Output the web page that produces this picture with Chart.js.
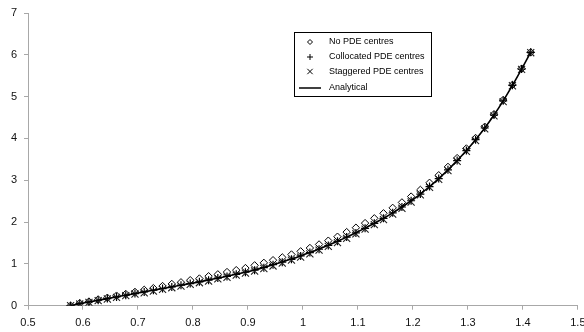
<!DOCTYPE html>
<html>
<head>
<meta charset="utf-8">
<script src="https://cdn.jsdelivr.net/npm/chart.js@4"></script>
<style>
  html, body { margin: 0; padding: 0; background: #fff; }
  #wrap { width: 584px; height: 332px; }
</style>
</head>
<body>
<div id="wrap"><canvas id="chart" width="584" height="332"></canvas></div>
<script>
// x positions of the nodes (1/sqrt(3) .. sqrt(2))
const xValues = [0.5774, 0.5941, 0.6108, 0.6276, 0.6443, 0.6610, 0.6778, 0.6945, 0.7113, 0.7280,
  0.7447, 0.7615, 0.7782, 0.7950, 0.8117, 0.8284, 0.8452, 0.8619, 0.8787, 0.8954,
  0.9121, 0.9289, 0.9456, 0.9624, 0.9791, 0.9958, 1.0126, 1.0293, 1.0461, 1.0628,
  1.0795, 1.0963, 1.1130, 1.1298, 1.1465, 1.1632, 1.1800, 1.1967, 1.2135, 1.2302,
  1.2469, 1.2637, 1.2804, 1.2972, 1.3139, 1.3306, 1.3474, 1.3641, 1.3809, 1.3976, 1.4142];

const noPdeValues = [0.00, 0.06, 0.10, 0.15, 0.19, 0.24, 0.28, 0.33, 0.38, 0.42,
  0.47, 0.52, 0.56, 0.61, 0.65, 0.705, 0.75, 0.805, 0.85, 0.90,
  0.965, 1.025, 1.088, 1.155, 1.225, 1.30, 1.38, 1.465, 1.555, 1.65,
  1.76, 1.865, 1.975, 2.09, 2.21, 2.34, 2.47, 2.61, 2.77, 2.94,
  3.12, 3.32, 3.53, 3.76, 4.01, 4.28, 4.58, 4.92, 5.28, 5.67, 6.06];

const collocatedValues = [0.00, 0.05, 0.09, 0.13, 0.17, 0.21, 0.25, 0.29, 0.33, 0.37,
  0.41, 0.45, 0.49, 0.53, 0.57, 0.61, 0.66, 0.70, 0.75, 0.80,
  0.85, 0.91, 0.98, 1.04, 1.11, 1.19, 1.27, 1.35, 1.44, 1.54,
  1.64, 1.74, 1.85, 1.97, 2.09, 2.22, 2.36, 2.51, 2.67, 2.85,
  3.04, 3.25, 3.47, 3.71, 3.97, 4.25, 4.56, 4.90, 5.27, 5.66, 6.06];

const staggeredValues = [0.00, 0.04, 0.08, 0.12, 0.16, 0.20, 0.24, 0.28, 0.31, 0.35,
  0.39, 0.43, 0.47, 0.51, 0.55, 0.59, 0.64, 0.68, 0.73, 0.78,
  0.83, 0.89, 0.95, 1.02, 1.09, 1.16, 1.24, 1.33, 1.42, 1.51,
  1.61, 1.72, 1.83, 1.94, 2.06, 2.19, 2.33, 2.48, 2.65, 2.83,
  3.02, 3.23, 3.45, 3.69, 3.95, 4.23, 4.54, 4.88, 5.26, 5.65, 6.05];

const analyticalValues = [0.00, 0.05, 0.09, 0.13, 0.17, 0.21, 0.25, 0.29, 0.33, 0.37,
  0.41, 0.45, 0.49, 0.53, 0.57, 0.615, 0.66, 0.705, 0.75, 0.80,
  0.855, 0.915, 0.978, 1.045, 1.115, 1.19, 1.27, 1.355, 1.445, 1.54,
  1.64, 1.745, 1.855, 1.97, 2.09, 2.22, 2.36, 2.51, 2.67, 2.85,
  3.04, 3.25, 3.47, 3.71, 3.97, 4.25, 4.56, 4.90, 5.27, 5.66, 6.06];

const seriesNames = ['No PDE centres', 'Collocated PDE centres', 'Staggered PDE centres', 'Analytical'];

const toPoints = ys => xValues.map((x, i) => ({ x: x, y: ys[i] }));

const FONT = "'Liberation Sans', Arial, sans-serif";
const axisGray = '#a8a8a8';

// legend box sits inside the plot area, like the original
const boxLegend = {
  id: 'boxLegend',
  afterDraw(chart) {
    const ctx = chart.ctx;
    const left = 294.5, top = 32.5, w = 137, h = 64;
    const rows = [42, 57, 71.5, 88];
    const keyX = 310, textX = 329;
    const keyRadius = [2.5, 3, 3.8];
    ctx.save();
    ctx.fillStyle = '#fff';
    ctx.fillRect(left, top, w, h);
    ctx.strokeStyle = '#000';
    ctx.lineWidth = 1;
    ctx.strokeRect(left, top, w, h);
    const ds = chart.data.datasets;
    for (let i = 0; i < 4; i++) {
      const y = rows[i];
      ctx.strokeStyle = '#000';
      if (i === 3) {
        ctx.beginPath();
        ctx.lineWidth = 1.5;
        ctx.moveTo(299, y);
        ctx.lineTo(321, y);
        ctx.stroke();
      } else {
        ctx.lineWidth = 1;
        ctx.fillStyle = '#fff';
        Chart.helpers.drawPoint(ctx, {
          pointStyle: ds[i].pointStyle,
          radius: keyRadius[i],
          rotation: 0,
          borderWidth: 1
        }, keyX, y);
      }
      ctx.font = '9px ' + FONT;
      ctx.fillStyle = '#000';
      ctx.textBaseline = 'middle';
      ctx.fillText(seriesNames[i], textX, y);
    }
    ctx.restore();
  }
};

new Chart(document.getElementById('chart').getContext('2d'), {
  type: 'scatter',
  data: {
    datasets: [{
      label: seriesNames[0],
      data: toPoints(noPdeValues),
      pointStyle: 'rectRot',
      pointRadius: 3.7,
      pointBorderWidth: 1,
      borderColor: '#000',
      backgroundColor: '#fff',
      showLine: false,
      order: 3
    }, {
      label: seriesNames[1],
      data: toPoints(collocatedValues),
      pointStyle: 'cross',
      pointRadius: 4,
      pointBorderWidth: 1.2,
      borderColor: '#000',
      backgroundColor: '#000',
      showLine: false,
      order: 2
    }, {
      label: seriesNames[2],
      data: toPoints(staggeredValues),
      pointStyle: 'crossRot',
      pointRadius: 5,
      pointBorderWidth: 1.1,
      borderColor: '#222',
      backgroundColor: '#222',
      showLine: false,
      order: 1
    }, {
      label: seriesNames[3],
      data: toPoints(analyticalValues),
      showLine: true,
      pointRadius: 0,
      borderColor: '#000',
      borderWidth: 1.6,
      cubicInterpolationMode: 'monotone',
      fill: false,
      order: 0
    }]
  },
  options: {
    responsive: false,
    animation: false,
    devicePixelRatio: 1,
    layout: { padding: { left: 0, right: 5.3, top: 13, bottom: 0 } },
    plugins: {
      legend: { display: false },
      tooltip: { enabled: false }
    },
    scales: {
      x: {
        type: 'linear',
        min: 0.5,
        max: 1.5,
        ticks: {
          stepSize: 0.1,
          padding: 7,
          color: '#111',
          font: { family: FONT, size: 11 },
          maxRotation: 0,
          callback: v => String(+v.toFixed(1))
        },
        grid: { display: true, drawOnChartArea: false, drawTicks: true, tickLength: 4, color: axisGray },
        border: { display: true, color: axisGray, width: 1 },
        afterFit: s => { s.height = 26.3; s.paddingLeft = 0; s.paddingRight = 0; }
      },
      y: {
        min: 0,
        max: 7,
        ticks: {
          stepSize: 1,
          padding: 7,
          color: '#111',
          font: { family: FONT, size: 11 }
        },
        grid: { display: true, drawOnChartArea: false, drawTicks: true, tickLength: 4, color: axisGray },
        border: { display: true, color: axisGray, width: 1 },
        afterFit: s => { s.width = 28; s.paddingTop = 0; s.paddingBottom = 0; }
      }
    }
  },
  plugins: [boxLegend]
});
</script>
</body>
</html>
